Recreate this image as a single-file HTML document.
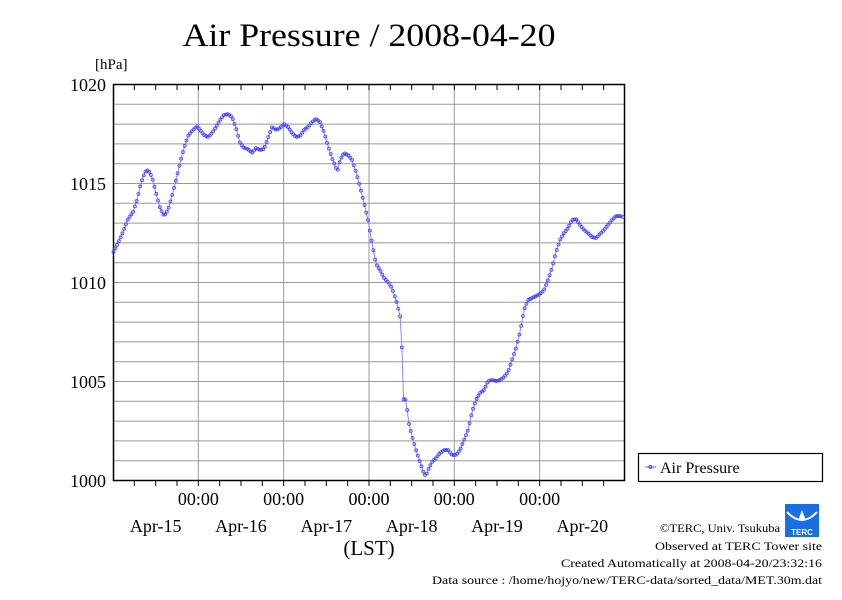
<!DOCTYPE html>
<html><head><meta charset="utf-8"><style>
body{margin:0;background:#fff;width:842px;height:595px;overflow:hidden}
svg{font-family:"Liberation Serif",serif}
</style></head><body>
<svg id="s" width="842" height="595" viewBox="0 0 842 595" xmlns="http://www.w3.org/2000/svg">
<text x="369" y="46" font-size="33" text-anchor="middle" textLength="373" lengthAdjust="spacingAndGlyphs">Air Pressure / 2008-04-20</text>
<text x="95" y="69" font-size="15">[hPa]</text>
<g id="grid" stroke="#999" stroke-width="1"></g>
<rect x="113.5" y="84.5" width="511" height="396" fill="none" stroke="#000" stroke-width="1.5"/>
<g id="ticks" stroke="#000" stroke-width="1"></g>
<g font-size="18" text-anchor="end">
<text x="106" y="91">1020</text><text x="106" y="190">1015</text><text x="106" y="289">1010</text><text x="106" y="388">1005</text><text x="106" y="487">1000</text>
</g>
<g font-size="18" text-anchor="middle" id="xl"></g>
<text x="369" y="555" font-size="21" text-anchor="middle">(LST)</text>
<g id="data"></g>
<rect x="638.5" y="453.5" width="184" height="28" fill="#fff" stroke="#000" stroke-width="1.2"/>
<line x1="645" y1="467" x2="656" y2="467" stroke="#66f" stroke-width="1"/>
<circle cx="650.5" cy="467" r="1.5" fill="none" stroke="#44f"/>
<text x="660" y="473" font-size="16">Air Pressure</text>
<g font-size="12">
<text x="660" y="532" textLength="120" lengthAdjust="spacingAndGlyphs">©TERC, Univ. Tsukuba</text>
<text x="655" y="550" textLength="167" lengthAdjust="spacingAndGlyphs">Observed at TERC Tower site</text>
<text x="561" y="567" textLength="261" lengthAdjust="spacingAndGlyphs">Created Automatically at 2008-04-20/23:32:16</text>
<text x="432" y="584" textLength="390" lengthAdjust="spacingAndGlyphs">Data source : /home/hojyo/new/TERC-data/sorted_data/MET.30m.dat</text>
</g>
<rect x="785" y="504" width="34" height="33" fill="#1a6fe0"/>
<path d="M787 512 Q802 528 817 512" stroke="#fff" stroke-width="2" fill="none"/>
<path d="M802 510 L805 518 A3 3 0 1 1 799 518 Z" fill="#fff"/>
<text x="802" y="535" font-size="8" fill="#fff" text-anchor="middle" font-family="Liberation Sans,sans-serif" font-weight="bold">TERC</text>
</svg>
<script>
var ns="http://www.w3.org/2000/svg";
function el(p,t,a){var e=document.createElementNS(ns,t);for(var k in a)e.setAttribute(k,a[k]);document.getElementById(p).appendChild(e);return e;}
var d=85.33;
for(var i=1;i<20;i++){var y=84.5+i*19.8;el("grid","line",{x1:113,x2:625,y1:y,y2:y});}
for(var j=1;j<6;j++){var x=113+j*d;el("grid","line",{x1:x,x2:x,y1:85,y2:481});}
for(var k=1;k<24;k++){var x=113+k*d/4;el("ticks","line",{x1:x,x2:x,y1:85,y2:90});el("ticks","line",{x1:x,x2:x,y1:481,y2:486});}
for(var j=1;j<6;j++){var t=el("xl","text",{x:113+j*d,y:505});t.textContent="00:00";}
var days=["Apr-15","Apr-16","Apr-17","Apr-18","Apr-19","Apr-20"];
for(var j=0;j<6;j++){var t=el("xl","text",{x:113+(j+0.5)*d+0,y:532});t.textContent=days[j];}
var P=[113,253,118,243,123,232,128,219,133,212,137,200,141,183,145,172,148,170,152,177,156,193,160,208,164,216,168,210,172,196,176,180,180,163,184,148,188,136,192,131,197,126,200,130,204,135,208,137,212,133,216,127,220,120,224,115,228,114,232,117,236,128,240,143,244,148,248,149,252,153,256,148,260,150,264,149,268,138,272,127,276,130,280,128,284,124,288,127,292,133,296,137,300,136,304,130,308,127,312,122,316,119,320,122,324,132,328,146,332,158,336,168,338,170,340,160,344,153,348,155,352,160,356,172,360,187,364,203,368,220,372,243,376,264,380,270,384,278,388,282,392,288,396,300,400,315,402,350,404,410,406,395,408,420,412,436,416,450,420,462,424,474,426,476,428,470,432,462,436,458,440,453,444,450,448,450,452,455,456,455,460,450,464,440,468,430,472,412,476,400,480,393,484,390,488,381,492,380,496,381,500,380,504,377,508,372,512,360,516,348,520,332,524,310,528,300,532,298,536,296,540,294,544,290,548,280,552,268,556,252,560,240,564,233,568,228,572,220,576,219,580,225,584,230,588,233,592,237,596,238,600,234,604,230,608,225,612,220,616,216,620,216,623,217];
function yAt(x){for(var i=0;i<P.length-2;i+=2){if(x<=P[i+2]){var f=(x-P[i])/(P[i+2]-P[i]);return P[i+1]+f*(P[i+3]-P[i+1]);}}return P[P.length-1];}
var pts=[];for(var x=113.5;x<=623;x+=1.78){pts.push(x.toFixed(1)+","+yAt(x).toFixed(1));}
el("data","polyline",{points:pts.join(" "),fill:"none",stroke:"#88f","stroke-width":1});
for(var x=113.5;x<=623;x+=1.78){el("data","circle",{cx:x,cy:yAt(x),r:1.5,fill:"none",stroke:"#44f","stroke-width":0.8});}
</script>
</body></html>
